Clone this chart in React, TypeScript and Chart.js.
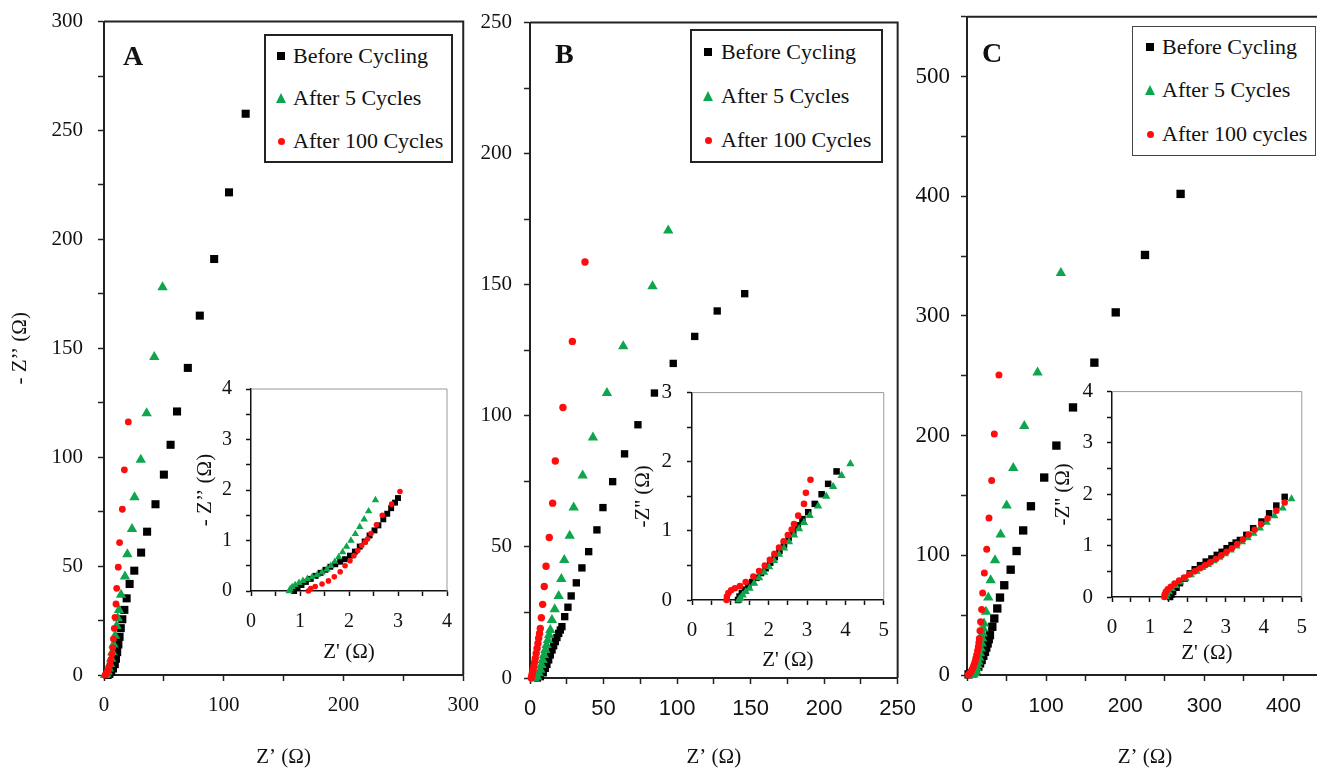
import React, { useEffect, useRef } from 'react';
import { Chart, registerables } from 'chart.js';

Chart.register(...registerables);

type P = [number, number];

// ---------- Panel A (main) ----------
const aBefore: P[] = [[3, 0], [4.5, 0.5], [6, 1.5], [7.5, 3], [9, 5], [10, 7.5], [11, 10.5], [12, 14], [13, 17.5], [14, 21.5], [15.3, 25.6], [17, 29.9], [18.9, 35.2], [21.4, 41.8], [25.3, 47.9], [31, 56.2], [36, 65.8], [43, 78.4], [50, 92], [55.6, 105.7], [61, 121], [70, 141], [80, 165], [92, 191], [104.4, 221.6], [118.3, 257.7]];
const aFive: P[] = [[1, 0], [2, 0.5], [3, 1.5], [4, 3], [5, 5], [6, 7.5], [7, 10.5], [8, 14], [9.2, 18], [10.5, 22.5], [11.5, 26], [12.5, 29.9], [14.2, 36.8], [17.5, 45.2], [19.5, 55.4], [23.4, 67], [25.5, 81.6], [30.7, 98.8], [35.6, 120.2], [42, 146], [48.9, 178]];
const aHundred: P[] = [[1, 0], [1.8, 0.5], [2.6, 1.2], [3.4, 2.2], [4.2, 3.5], [5, 5], [5.8, 7], [6.5, 9.5], [7.2, 12.5], [7.9, 16.5], [8.6, 21.4], [9.2, 26.5], [10, 32.6], [10.6, 39.8], [11.9, 49.5], [13, 60.8], [15.3, 76.1], [17, 94.2], [20.3, 116.2]];

// ---------- Panel A (inset) ----------
const aBeforeIn: P[] = [[0.88, 0], [0.95, 0.06], [1.03, 0.12], [1.12, 0.18], [1.22, 0.24], [1.32, 0.3], [1.42, 0.36], [1.52, 0.42], [1.62, 0.48], [1.72, 0.53], [1.82, 0.58], [1.92, 0.63], [2.02, 0.7], [2.12, 0.78], [2.22, 0.88], [2.32, 0.98], [2.42, 1.1], [2.52, 1.2], [2.6, 1.3], [2.7, 1.42], [2.78, 1.53], [2.86, 1.64], [2.94, 1.75], [3.0, 1.84]];
const aFiveIn: P[] = [[0.78, 0], [0.8, 0.04], [0.84, 0.08], [0.9, 0.12], [0.98, 0.16], [1.06, 0.2], [1.15, 0.24], [1.25, 0.28], [1.35, 0.32], [1.45, 0.37], [1.55, 0.43], [1.63, 0.5], [1.71, 0.58], [1.79, 0.67], [1.87, 0.77], [1.95, 0.88], [2.04, 1.0], [2.13, 1.13], [2.22, 1.27], [2.31, 1.42], [2.4, 1.58], [2.54, 1.8]];
const aHundredIn: P[] = [[1.17, 0], [1.22, 0.05], [1.31, 0.09], [1.45, 0.14], [1.58, 0.2], [1.7, 0.28], [1.82, 0.38], [1.92, 0.5], [2.02, 0.6], [2.1, 0.7], [2.18, 0.8], [2.26, 0.9], [2.33, 0.97], [2.38, 1.03], [2.45, 1.14], [2.56, 1.31], [2.68, 1.5], [2.87, 1.72], [3.04, 1.97]];

// ---------- Panel B (main) ----------
const bBefore: P[] = [[5, 0], [7, 0.5], [9, 2], [10.4, 3.7], [11.5, 5.2], [12.7, 6.9], [13.8, 8.8], [15, 10.7], [16.1, 12.3], [17.2, 13.9], [18.3, 15.4], [19.5, 17], [20.6, 18.3], [21.7, 19.6], [23.6, 23.4], [25.8, 27], [28, 31.3], [31.5, 36.3], [35.3, 42], [39.9, 48.2], [45.5, 56.5], [49.6, 65], [56.2, 74.9], [64.3, 85.5], [73.4, 96.6], [84.6, 108.7], [97.4, 120], [112, 130.3], [127.3, 140], [146, 146.6]];
const bFive: P[] = [[3, 0], [4.8, 0.5], [6, 1.8], [7, 3.1], [7.8, 5], [8.6, 6.9], [9.5, 8.8], [10.4, 10.7], [11.3, 12.6], [12.2, 14.5], [13, 16.4], [13.8, 18.3], [14.9, 22.1], [16.8, 26.2], [19.5, 31.3], [21.3, 37.8], [23.3, 45], [27, 54.3], [29.7, 65], [35.8, 77.2], [42.8, 91.7], [52.3, 108.7], [63.4, 126.5], [83.3, 149.4], [94, 170.7]];
const bHundred: P[] = [[0.9, 0], [1.2, 0.8], [1.6, 1.8], [2.1, 3], [2.6, 4.3], [3.1, 5.9], [3.6, 7.5], [4.2, 9.4], [4.8, 11.3], [5.4, 13.2], [5.9, 15.2], [6.5, 17], [7, 18.9], [7.7, 23], [8.6, 28.1], [9.7, 34.9], [10.9, 42.6], [13.1, 53.6], [15.4, 66.7], [17.2, 82.8], [22.4, 103.2], [28.8, 128.4], [37.4, 158.7]];

// ---------- Panel B (inset) ----------
const bBeforeIn: P[] = [[1.2, 0], [1.24, 0.05], [1.3, 0.1], [1.38, 0.15], [1.47, 0.2], [1.57, 0.26], [1.68, 0.32], [1.8, 0.39], [1.92, 0.46], [2.04, 0.54], [2.16, 0.62], [2.28, 0.71], [2.4, 0.8], [2.52, 0.9], [2.64, 0.99], [2.76, 1.08], [2.88, 1.17], [3.03, 1.27], [3.2, 1.39], [3.38, 1.53], [3.55, 1.68], [3.77, 1.86]];
const bFiveIn: P[] = [[1.22, 0], [1.26, 0.03], [1.32, 0.07], [1.4, 0.12], [1.5, 0.17], [1.62, 0.24], [1.75, 0.32], [1.88, 0.4], [2.01, 0.48], [2.14, 0.57], [2.27, 0.66], [2.4, 0.75], [2.53, 0.84], [2.66, 0.94], [2.79, 1.03], [2.92, 1.12], [3.07, 1.22], [3.29, 1.36], [3.5, 1.5], [3.68, 1.64], [3.9, 1.8], [4.13, 1.97]];
const bHundredIn: P[] = [[0.9, 0], [0.91, 0.05], [0.95, 0.1], [1.02, 0.14], [1.12, 0.17], [1.25, 0.2], [1.4, 0.26], [1.6, 0.34], [1.75, 0.42], [1.9, 0.5], [2.03, 0.58], [2.15, 0.67], [2.27, 0.76], [2.39, 0.85], [2.5, 0.94], [2.6, 1.02], [2.66, 1.1], [2.77, 1.22], [2.92, 1.39], [2.97, 1.55], [3.09, 1.74]];

// ---------- Panel C (main) ----------
const cBefore: P[] = [[2, 0.5], [5, 1.5], [8, 2.8], [11, 4.8], [14.3, 6.9], [16.5, 9.7], [18.5, 12.5], [20.6, 16], [22.7, 19.4], [24.4, 22.9], [26.1, 26.4], [27.5, 29.9], [29, 33.3], [32, 40.3], [34.5, 47.2], [38.3, 55.6], [41.7, 64.7], [47.1, 75], [55.2, 88], [62.7, 103.6], [71, 120.8], [80.8, 141], [97.6, 165], [113, 191.7], [134, 223.6], [161, 261], [188, 303], [225, 351], [270, 402]];
const cFive: P[] = [[6, 0], [8, 0.5], [10.1, 1.4], [11.2, 3.3], [12.2, 5.6], [13.3, 8.3], [14.3, 11.1], [15.4, 14.5], [16.4, 18.1], [17.5, 22.2], [18.5, 26.4], [19.2, 30.5], [19.8, 34.7], [20.6, 38.9], [21.5, 43.1], [24, 52.8], [26.9, 64.7], [29.9, 79.2], [35.4, 95.8], [42.5, 117.5], [50.1, 141.7], [58.5, 173], [72.4, 208], [89.2, 252.8], [118.7, 336]];
const cHundred: P[] = [[1.4, 0], [2.5, 0.8], [3.8, 1.8], [5.1, 2.8], [6.5, 4.6], [8, 6.9], [9, 8.8], [10.1, 11.1], [11.2, 13.9], [12.2, 16.7], [13.3, 20.2], [14.3, 23.6], [15, 27], [15.6, 30.5], [16.4, 36.9], [17.2, 44.4], [18.5, 54.7], [19.8, 68.6], [21.9, 85.3], [24.9, 105], [27.8, 131.1], [31.2, 162.5], [34.5, 201.4], [40.4, 250.6]];

// ---------- Panel C (inset) ----------
const cBeforeIn: P[] = [[1.53, 0], [1.57, 0.05], [1.61, 0.1], [1.7, 0.18], [1.79, 0.27], [1.92, 0.36], [2.05, 0.46], [2.18, 0.54], [2.32, 0.62], [2.47, 0.69], [2.62, 0.75], [2.76, 0.82], [2.89, 0.88], [3.02, 0.95], [3.15, 1.01], [3.26, 1.06], [3.37, 1.11], [3.54, 1.21], [3.72, 1.34], [3.94, 1.47], [4.14, 1.63], [4.33, 1.78], [4.55, 1.95]];
const cFiveIn: P[] = [[1.42, 0], [1.45, 0.05], [1.5, 0.1], [1.58, 0.16], [1.68, 0.22], [1.8, 0.29], [1.94, 0.36], [2.08, 0.43], [2.23, 0.5], [2.38, 0.57], [2.53, 0.63], [2.68, 0.7], [2.83, 0.77], [2.98, 0.84], [3.13, 0.91], [3.28, 0.99], [3.43, 1.07], [3.58, 1.15], [3.73, 1.24], [3.9, 1.34], [4.08, 1.45], [4.28, 1.58], [4.5, 1.73], [4.73, 1.91]];
const cHundredIn: P[] = [[1.38, 0], [1.39, 0.05], [1.42, 0.1], [1.47, 0.15], [1.55, 0.2], [1.65, 0.26], [1.77, 0.32], [1.9, 0.38], [2.04, 0.44], [2.18, 0.5], [2.32, 0.56], [2.46, 0.62], [2.6, 0.68], [2.74, 0.74], [2.88, 0.81], [3.02, 0.88], [3.16, 0.95], [3.3, 1.03], [3.45, 1.12], [3.6, 1.21], [3.76, 1.31], [3.93, 1.42], [4.1, 1.53], [4.33, 1.68], [4.55, 1.84]];

// ---------- Text ----------
const legendLabelsAB = ['Before Cycling', 'After 5 Cycles', 'After 100 Cycles'];
const legendLabelsC = ['Before Cycling', 'After 5 Cycles', 'After 100 cycles'];
const panelLetters = ['A', 'B', 'C'];
const mainXTitle = 'Z’ (Ω)';
const mainYTitle = '- Z’’ (Ω)';
const insetXTitle = "Z' (Ω)";
const insetYTitleA = '- Z’’ (Ω)';
const insetYTitleBC = "-Z'' (Ω)";

const SERIF = '"Liberation Serif", "Times New Roman", serif';
const SANS = '"Liberation Sans", Arial, sans-serif';
const BLACK = '#000000';
const GREEN = '#0ea64c';
const RED = '#ff0d0d';

type Style = 'rect' | 'triangle' | 'circle';
type Series = { data: P[]; style: Style; color: string; r: number; order: number };
type AxisSpec = {
  max: number; step: number; every: number;
  font: { family: string; size: number }; pad: number;
  title?: string; titleSize?: number; titlePad?: number;
};
type Spec = {
  box: [number, number, number, number];
  padTop: number; padRight: number;
  yWidth: number; xHeight: number;
  x: AxisSpec; y: AxisSpec;
  tickLen: number; axisColor: string; axisWidth: number;
  frameColor: string; frameWidth: number;
  fill?: string;
  series: Series[];
};

const framePlugin = {
  id: 'frame',
  beforeDraw(chart: any, _a: any, opts: any) {
    if (!opts || !opts.fill) return;
    const { ctx, chartArea: ca } = chart;
    ctx.save();
    ctx.fillStyle = opts.fill;
    ctx.fillRect(ca.left, ca.top, ca.right - ca.left, ca.bottom - ca.top);
    ctx.restore();
  },
  afterDraw(chart: any, _a: any, opts: any) {
    if (!opts || !opts.color) return;
    const { ctx, chartArea: ca } = chart;
    ctx.save();
    ctx.strokeStyle = opts.color;
    ctx.lineWidth = opts.width;
    ctx.beginPath();
    ctx.moveTo(ca.left, ca.top);
    ctx.lineTo(ca.right, ca.top);
    ctx.lineTo(ca.right, ca.bottom);
    ctx.stroke();
    ctx.restore();
  },
};

function label(v: number, a: AxisSpec): string {
  const k = v / a.every;
  return Math.abs(k - Math.round(k)) < 1e-6 ? String(Math.round(v * 1000) / 1000) : '';
}

function axis(a: AxisSpec, isY: boolean, s: Spec): any {
  return {
    type: 'linear',
    position: isY ? 'left' : 'bottom',
    min: 0,
    max: a.max,
    afterFit: (sc: any) => {
      if (isY) sc.width = s.yWidth;
      else sc.height = s.xHeight;
    },
    ticks: {
      stepSize: a.step,
      autoSkip: false,
      maxRotation: 0,
      minRotation: 0,
      padding: a.pad,
      color: '#111',
      font: a.font,
      callback: (v: any) => label(Number(v), a),
    },
    grid: {
      display: true,
      drawOnChartArea: false,
      drawTicks: true,
      tickLength: s.tickLen,
      tickColor: s.axisColor,
      tickWidth: 1.5,
    },
    border: { display: true, color: s.axisColor, width: s.axisWidth },
    title: a.title
      ? {
          display: true,
          text: a.title,
          color: '#111',
          font: { family: SERIF, size: a.titleSize || 21 },
          padding: isY ? { top: a.titlePad || 0, bottom: 0 } : { top: 0, bottom: a.titlePad || 0 },
        }
      : { display: false },
  };
}

function PanelChart({ spec }: { spec: Spec }) {
  const ref = useRef<HTMLCanvasElement>(null);
  useEffect(() => {
    if (!ref.current) return;
    const chart = new Chart(ref.current, {
      type: 'scatter',
      data: {
        datasets: spec.series.map((se) => ({
          data: se.data.map(([x, y]) => ({ x, y })),
          pointStyle: se.style,
          pointRadius: se.r,
          pointBackgroundColor: se.color,
          pointBorderColor: se.color,
          pointBorderWidth: 0,
          showLine: false,
          order: se.order,
          clip: false as any,
        })),
      },
      options: {
        animation: false,
        responsive: false,
        maintainAspectRatio: false,
        devicePixelRatio: 1,
        events: [],
        layout: { padding: { top: spec.padTop, right: spec.padRight, left: 0, bottom: 0 } },
        scales: { x: axis(spec.x, false, spec), y: axis(spec.y, true, spec) },
        plugins: {
          legend: { display: false },
          tooltip: { enabled: false },
          frame: { color: spec.frameColor, width: spec.frameWidth, fill: spec.fill },
        } as any,
      },
      plugins: [framePlugin],
    } as any);
    return () => chart.destroy();
  }, []);
  const [l, t, w, h] = spec.box;
  return (
    <canvas
      ref={ref}
      width={w}
      height={h}
      style={{ position: 'absolute', left: l, top: t, width: w, height: h }}
    />
  );
}

const serif = (size: number) => ({ family: SERIF, size });
const sans = (size: number) => ({ family: SANS, size });

function mkSeries(d: [P[], P[], P[]], r: [number, number, number]): Series[] {
  return [
    { data: d[0], style: 'rect', color: BLACK, r: r[0], order: 3 },
    { data: d[1], style: 'triangle', color: GREEN, r: r[1], order: 2 },
    { data: d[2], style: 'circle', color: RED, r: r[2], order: 1 },
  ];
}

const mainA: Spec = {
  box: [0, -6, 491, 776], padTop: 0, padRight: 0, yWidth: 104, xHeight: 95,
  x: { max: 300, step: 50, every: 100, font: serif(21), pad: 12, title: mainXTitle, titlePad: 0.4 },
  y: { max: 300, step: 25, every: 50, font: serif(21), pad: 15, title: mainYTitle, titlePad: 7.4 },
  tickLen: 6, axisColor: '#222', axisWidth: 2, frameColor: '#222', frameWidth: 2,
  series: mkSeries([aBefore, aFive, aHundred], [5.7, 6, 3.4]),
};
const mainB: Spec = {
  box: [470, -2, 458, 772], padTop: 0, padRight: 0, yWidth: 60, xHeight: 92,
  x: { max: 250, step: 25, every: 50, font: sans(22), pad: 12, title: mainXTitle, titlePad: 0 },
  y: { max: 250, step: 25, every: 50, font: serif(21), pad: 12 },
  tickLen: 6, axisColor: '#222', axisWidth: 2, frameColor: '#222', frameWidth: 2,
  series: mkSeries([bBefore, bFive, bHundred], [5.2, 6, 3.7]),
};
const mainC: Spec = {
  box: [907, -8, 429, 778], padTop: 0, padRight: 0, yWidth: 60, xHeight: 95,
  x: { max: 450, step: 50, every: 100, font: sans(21), pad: 13, title: mainXTitle, titlePad: 0.4 },
  y: { max: 550, step: 50, every: 100, font: serif(23), pad: 11 },
  tickLen: 6, axisColor: '#222', axisWidth: 2, frameColor: '#222', frameWidth: 2,
  series: mkSeries([cBefore, cFive, cHundred], [5.9, 6, 3.5]),
};
const insetA: Spec = {
  box: [185, 363, 281, 302], padTop: 0, padRight: 0, yWidth: 66, xHeight: 74,
  x: { max: 4, step: 0.5, every: 1, font: serif(20), pad: 14, title: insetXTitle, titlePad: 0.4 },
  y: { max: 4, step: 0.5, every: 1, font: serif(20), pad: 14, title: insetYTitleA, titlePad: 7.4 },
  tickLen: 5, axisColor: '#111', axisWidth: 1.5, frameColor: '#9a9a9a', frameWidth: 1, fill: '#ffffff',
  series: mkSeries([aBeforeIn, aFiveIn, aHundredIn], [4.2, 4.3, 2.8]),
};
const insetB: Spec = {
  box: [620, 365, 282, 308], padTop: 0, padRight: 0, yWidth: 72, xHeight: 73,
  x: { max: 5, step: 0.5, every: 1, font: serif(21), pad: 13, title: insetXTitle, titlePad: 0.4 },
  y: { max: 3, step: 0.5, every: 1, font: serif(21), pad: 15, title: insetYTitleBC, titlePad: 10.4 },
  tickLen: 5, axisColor: '#111', axisWidth: 1.5, frameColor: '#9a9a9a', frameWidth: 1, fill: '#ffffff',
  series: mkSeries([bBeforeIn, bFiveIn, bHundredIn], [4.6, 4.8, 3.3]),
};
const insetC: Spec = {
  box: [1040, 365, 280, 301], padTop: 0, padRight: 0, yWidth: 72, xHeight: 69,
  x: { max: 5, step: 0.5, every: 1, font: serif(21), pad: 13, title: insetXTitle, titlePad: 0.4 },
  y: { max: 4, step: 0.5, every: 1, font: serif(21), pad: 14, title: insetYTitleBC, titlePad: 10.4 },
  tickLen: 5, axisColor: '#111', axisWidth: 1.5, frameColor: '#9a9a9a', frameWidth: 1, fill: '#ffffff',
  series: mkSeries([cBeforeIn, cFiveIn, cHundredIn], [4.6, 4.6, 3.3]),
};

function Marker({ kind, x, y }: { kind: number; x: number; y: number }) {
  if (kind === 0)
    return <div style={{ position: 'absolute', left: x - 4, top: y - 4, width: 8, height: 8, background: BLACK }} />;
  if (kind === 1)
    return (
      <div
        style={{
          position: 'absolute', left: x - 5.5, top: y - 5, width: 0, height: 0,
          borderLeft: '5.5px solid transparent', borderRight: '5.5px solid transparent',
          borderBottom: `10px solid ${GREEN}`,
        }}
      />
    );
  return <div style={{ position: 'absolute', left: x - 3.5, top: y - 3.5, width: 7, height: 7, borderRadius: '50%', background: RED }} />;
}

function Legend({ box, rows, mx, tx, labels, border }: {
  box: [number, number, number, number]; rows: number[]; mx: number; tx: number; labels: string[]; border: string;
}) {
  const [l, t, r, b] = box;
  return (
    <>
      <div style={{ position: 'absolute', left: l, top: t, width: r - l, height: b - t, boxSizing: 'border-box', border, background: '#fff' }} />
      {rows.map((y, i) => (
        <React.Fragment key={i}>
          <Marker kind={i} x={mx} y={y} />
          <div style={{ position: 'absolute', left: tx, top: y - 11, height: 22, lineHeight: '22px', fontFamily: SERIF, fontSize: 22, color: '#111', whiteSpace: 'nowrap' }}>
            {labels[i]}
          </div>
        </React.Fragment>
      ))}
    </>
  );
}

function Letter({ text, x, y }: { text: string; x: number; y: number }) {
  return (
    <div style={{ position: 'absolute', left: x, top: y - 14, height: 28, lineHeight: '28px', fontFamily: SERIF, fontWeight: 'bold', fontSize: 28, color: '#111' }}>
      {text}
    </div>
  );
}

export default function App() {
  return (
    <div style={{ position: 'absolute', left: 0, top: 0, width: 1317, height: 770, overflow: 'hidden', background: '#fff' }}>
      <PanelChart spec={mainA} />
      <PanelChart spec={mainB} />
      <PanelChart spec={mainC} />
      <PanelChart spec={insetA} />
      <PanelChart spec={insetB} />
      <PanelChart spec={insetC} />
      <Legend box={[264, 34, 453, 163]} rows={[56, 98, 141]} mx={281} tx={293} labels={legendLabelsAB} border="2px solid #222" />
      <Legend box={[690, 29, 883, 163]} rows={[52, 96, 140]} mx={708} tx={721} labels={legendLabelsAB} border="2px solid #222" />
      <Legend box={[1132, 26, 1316, 156]} rows={[47, 90, 134]} mx={1150} tx={1162} labels={legendLabelsC} border="1.5px solid #444" />
      <Letter text={panelLetters[0]} x={123} y={56} />
      <Letter text={panelLetters[1]} x={555} y={54} />
      <Letter text={panelLetters[2]} x={982} y={53} />
    </div>
  );
}
